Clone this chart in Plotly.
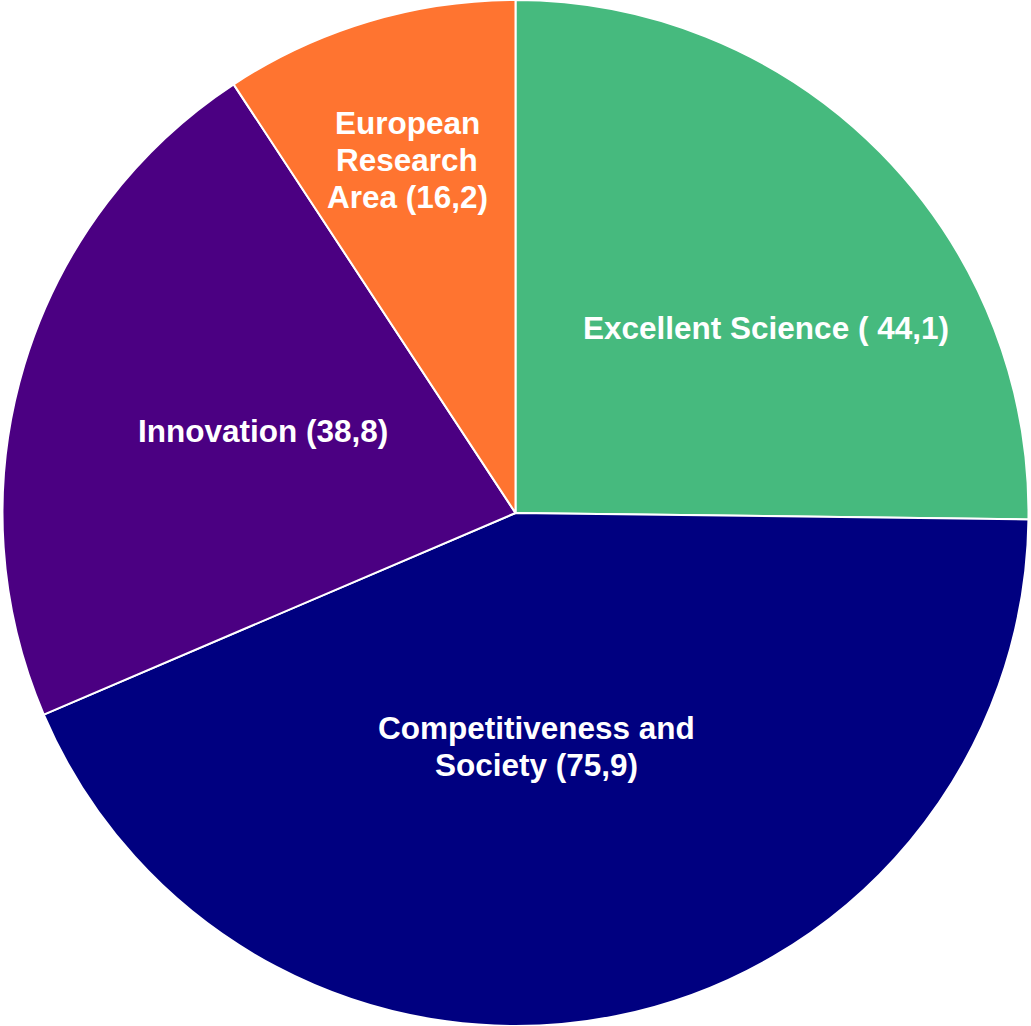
import plotly.graph_objects as go

categories = ["Excellent Science", "Competitiveness and Society", "Innovation", "European Research Area"]
values = [44.1, 75.9, 38.8, 16.2]
labels_text = ["Excellent Science ( 44,1)", "Competitiveness and<br>Society (75,9)",
               "Innovation (38,8)", "European<br>Research<br>Area (16,2)"]
colors = ["#46BA7E", "#000080", "#4B0082", "#FF7430"]

# label centre positions (paper fraction)
label_pos = [(0.743, 0.680), (0.520, 0.272), (0.255, 0.580), (0.395, 0.844)]
line_height = 37
font_size = 31.5

fig = go.Figure(go.Pie(
    labels=categories, values=values,
    textinfo="none",
    sort=False, direction="clockwise", rotation=0,
    marker=dict(colors=colors, line=dict(color="white", width=2)),
    hoverinfo="skip",
))

for txt, (px, py) in zip(labels_text, label_pos):
    lines = txt.split("<br>")
    n = len(lines)
    for i, ln in enumerate(lines):
        shift = ((n - 1) / 2 - i) * line_height
        fig.add_annotation(
            x=px, y=py, xref="paper", yref="paper", text=ln, showarrow=False,
            yshift=shift, xanchor="center", yanchor="middle",
            font=dict(family="Liberation Sans, Arial, sans-serif", size=font_size,
                      color="white", weight="bold"),
        )

fig.update_layout(width=1031, height=1026, margin=dict(l=0, r=0, t=0, b=0),
                  showlegend=False, paper_bgcolor="white")
fig.write_html("out.html", config={"displayModeBar": False},
               post_script="document.body.style.margin='0px';")
